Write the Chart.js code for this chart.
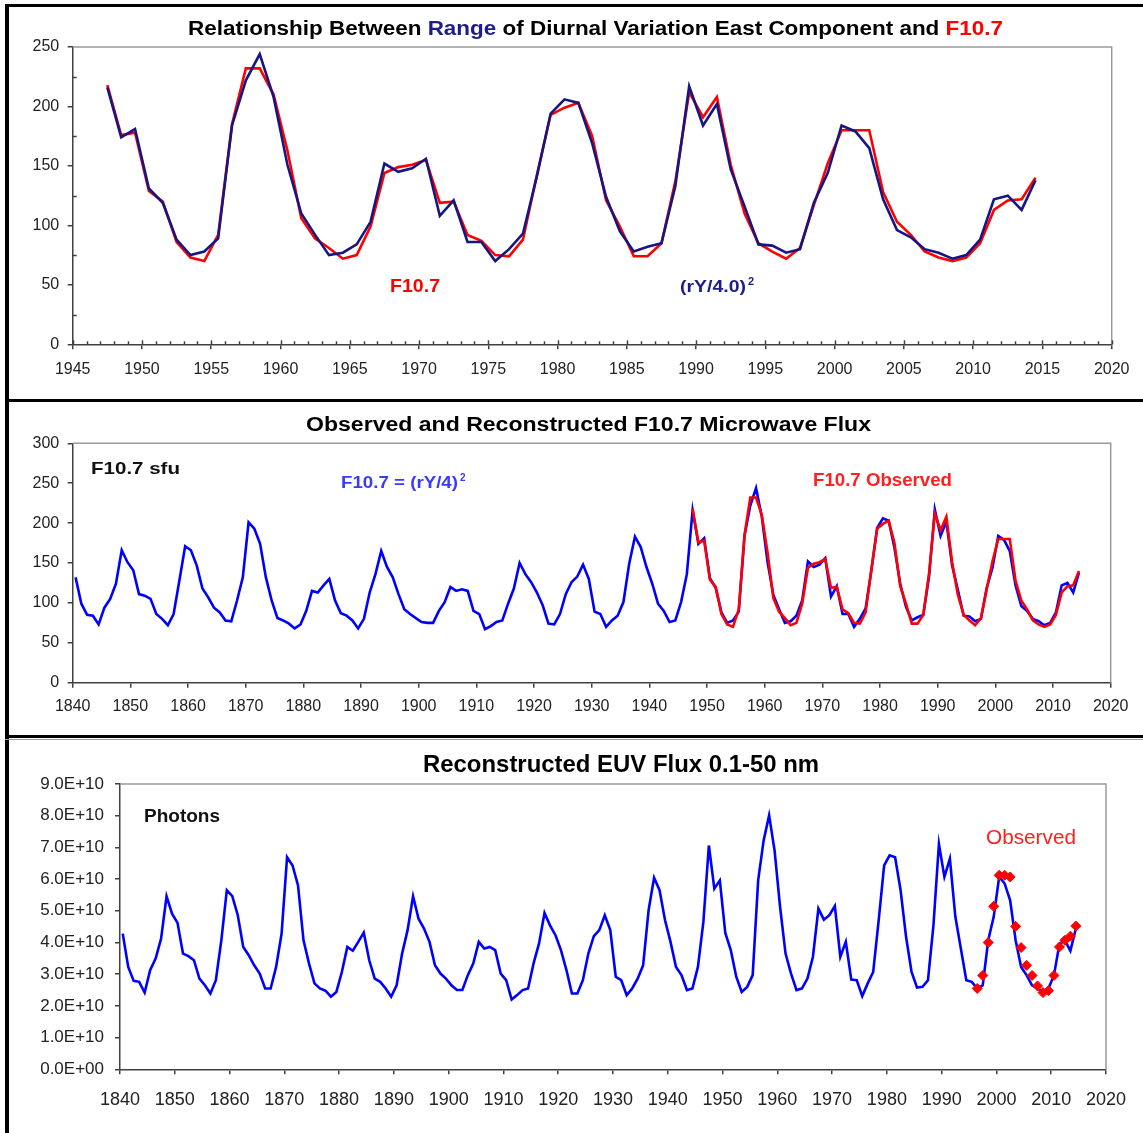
<!DOCTYPE html>
<html><head><meta charset="utf-8">
<script src="https://cdn.jsdelivr.net/npm/chart.js@4.4.1/dist/chart.umd.min.js"></script>
<style>
html,body{margin:0;padding:0;background:#fff;width:1143px;height:1133px;overflow:hidden;position:relative;}
canvas{position:absolute;left:0;}
.b{position:absolute;background:#000;}
</style></head><body>
<canvas id="c1" width="1143" height="400" style="top:0px;width:1143px;height:400px"></canvas>
<canvas id="c2" width="1143" height="337" style="top:400px;width:1143px;height:337px"></canvas>
<canvas id="c3" width="1143" height="396" style="top:737px;width:1143px;height:396px"></canvas>
<div class="b" style="left:5px;top:4px;width:1138px;height:3px"></div>
<div class="b" style="left:5px;top:4px;width:4px;height:1129px"></div>
<div class="b" style="left:5px;top:399px;width:1138px;height:3px"></div>
<div class="b" style="left:5px;top:735px;width:1138px;height:3px"></div>
<div class="b" style="left:5px;top:739px;width:1138px;height:1px;background:#999"></div>
<script>
// ---------------- DATA ----------------
// Panel 1: annual means 1947-2014
const topStartYear = 1947;
const rangeRY = [216,174,181,131,119,88,75,78,89,184,222,244,208,151,110,92,75,77,84,103,
  152,145,148,156,108,121,86,86,70,80,93,141,194,206,203,169,124,95,78,82,
  85,133,217,184,202,147,116,84,83,77,80,119,144,184,179,165,122,96,90,80,
  77,72,75,88,122,125,113,138];
const f107Obs = [218,176,178,129,120,86,73,70,92,185,232,232,210,163,106,89,81,72,75,99,
  144,149,151,155,119,120,92,87,75,74,88,142,193,199,203,175,121,99,74,74,
  85,137,212,191,208,151,110,85,78,72,81,117,152,180,180,180,128,103,92,78,
  73,70,73,85,113,121,122,140];
// Panel 2: reconstructed F10.7 1840-1946 (continues with rangeRY from 1947)
const reconStartYear = 1840;
const f107Recon1840 = [132,99,85,84,73,94,105,124,166,151,
  141,111,109,105,86,80,72,86,128,171,
  166,147,118,107,94,88,78,77,103,132,
  201,193,174,132,103,81,78,74,68,73,
  90,115,113,122,130,103,87,84,78,68,
  80,113,136,165,145,132,111,92,86,81,
  76,75,75,90,101,120,115,117,115,90,
  86,67,71,76,78,99,118,150,136,126,
  113,97,74,73,86,111,126,133,148,130,
  89,86,70,78,84,101,149,183,170,145,
  124,99,90,76,78,101,136];
// Panel 3: reconstructed EUV photon flux 1840-2014
const euvRecon = [4.28e10,3.23e10,2.79e10,2.76e10,2.42e10,3.13e10,3.49e10,4.12e10,5.46e10,4.91e10,
  4.62e10,3.65e10,3.57e10,3.44e10,2.86e10,2.65e10,2.39e10,2.81e10,4.07e10,5.65e10,
  5.46e10,4.86e10,3.86e10,3.60e10,3.28e10,3.02e10,2.55e10,2.55e10,3.23e10,4.28e10,
  6.69e10,6.43e10,5.80e10,4.07e10,3.34e10,2.71e10,2.55e10,2.48e10,2.29e10,2.44e10,
  3.07e10,3.86e10,3.74e10,4.02e10,4.31e10,3.44e10,2.86e10,2.76e10,2.55e10,2.29e10,
  2.65e10,3.65e10,4.39e10,5.46e10,4.75e10,4.44e10,4.02e10,3.28e10,3.02e10,2.86e10,
  2.65e10,2.50e10,2.50e10,2.97e10,3.34e10,4.02e10,3.81e10,3.86e10,3.76e10,3.02e10,
  2.81e10,2.20e10,2.34e10,2.50e10,2.55e10,3.34e10,3.97e10,4.93e10,4.54e10,4.23e10,
  3.76e10,3.13e10,2.39e10,2.39e10,2.81e10,3.65e10,4.20e10,4.39e10,4.86e10,4.39e10,
  2.92e10,2.81e10,2.34e10,2.55e10,2.86e10,3.28e10,5.02e10,6.04e10,5.65e10,4.70e10,
  4.02e10,3.23e10,2.97e10,2.50e10,2.55e10,3.23e10,4.65e10,7.06e10,5.70e10,5.96e10,
  4.30e10,3.76e10,2.92e10,2.44e10,2.60e10,2.97e10,5.96e10,7.22e10,8.01e10,6.90e10,
  5.12e10,3.65e10,3.02e10,2.50e10,2.55e10,2.86e10,3.55e10,5.07e10,4.72e10,4.86e10,
  5.15e10,3.55e10,4.02e10,2.83e10,2.81e10,2.31e10,2.71e10,3.07e10,4.70e10,6.43e10,
  6.75e10,6.69e10,5.65e10,4.18e10,3.07e10,2.58e10,2.60e10,2.81e10,4.54e10,7.11e10,
  6.07e10,6.64e10,4.81e10,3.81e10,2.81e10,2.76e10,2.55e10,2.65e10,4.07e10,4.81e10,
  6.07e10,5.86e10,5.33e10,4.07e10,3.23e10,2.97e10,2.65e10,2.55e10,2.44e10,2.55e10,
  2.97e10,3.95e10,4.07e10,3.74e10,4.44e10];
const euvObsStartYear = 1996;
const euvObs = [2.55e10,2.96e10,4.00e10,5.14e10,6.12e10,6.12e10,6.07e10,4.51e10,3.84e10,3.28e10,
  2.96e10,2.63e10,2.42e10,2.48e10,2.96e10,3.86e10,4.07e10,4.20e10,4.52e10];

// Tick values
const xTicksTop = [1945,1950,1955,1960,1965,1970,1975,1980,1985,1990,1995,2000,2005,2010,2015,2020];
const yTicksTop = [0,50,100,150,200,250];
const xTicksLong = [1840,1850,1860,1870,1880,1890,1900,1910,1920,1930,1940,1950,1960,1970,1980,1990,2000,2010,2020];
const yTicksMid = [0,50,100,150,200,250,300];
const yTicksEuv = [0,1e10,2e10,3e10,4e10,5e10,6e10,7e10,8e10,9e10];

// annual means plotted at mid-year
function series(startYear, vals) { return vals.map((v, i) => ({ x: startYear + i + 0.5, y: v })); }
const midRecon = f107Recon1840.concat(rangeRY);

// ---------------- DECOR PLUGIN ----------------
const FONT = '"Liberation Sans", Arial, sans-serif';
function drawText(ctx, t) {
  ctx.save();
  ctx.font = t.font;
  ctx.textBaseline = 'alphabetic';
  ctx.textAlign = 'left';
  const segs = t.segs;
  const widths = segs.map(s => ctx.measureText(s.text).width);
  const total = widths.reduce((a, b) => a + b, 0);
  const sx = t.w ? t.w / total : 1;
  ctx.translate(t.x, t.y);
  ctx.scale(sx, 1);
  let cx = 0;
  segs.forEach((s, i) => { ctx.fillStyle = s.color; ctx.fillText(s.text, cx, 0); cx += widths[i]; });
  ctx.restore();
}
const decor = {
  id: 'decor',
  afterDraw(chart, args, o) {
    const ctx = chart.ctx, a = chart.chartArea;
    const xs = chart.scales.x, ys = chart.scales.y;
    ctx.save();
    ctx.strokeStyle = '#9a9a9a'; ctx.lineWidth = 1.5;
    ctx.beginPath(); ctx.moveTo(a.left, a.top); ctx.lineTo(a.right, a.top); ctx.lineTo(a.right, a.bottom); ctx.stroke();
    ctx.strokeStyle = '#404040'; ctx.lineWidth = 1.5;
    if (o.minorX) {
      for (let v = xs.min; v <= xs.max + 1e-9; v += o.minorX) {
        const px = Math.round(xs.getPixelForValue(v)) + 0.5;
        const major = Math.abs(v % 5) < 1e-9;
        ctx.beginPath(); ctx.moveTo(px, a.bottom); ctx.lineTo(px, a.bottom - (major ? 4 : 3)); ctx.stroke();
      }
    }
    if (o.minorY) {
      for (let v = ys.min + o.minorY; v < ys.max; v += 2 * o.minorY) {
        const py = Math.round(ys.getPixelForValue(v)) + 0.5;
        ctx.beginPath(); ctx.moveTo(a.left, py); ctx.lineTo(a.left + 4, py); ctx.stroke();
      }
    }
    ctx.restore();
    (o.texts || []).forEach(t => drawText(ctx, t));
  }
};

function eFormat(v) {
  if (v === 0) return '0.0E+00';
  const e = Math.floor(Math.log10(Math.abs(v)) + 1e-9);
  const m = v / Math.pow(10, e);
  return m.toFixed(1) + 'E+' + String(e).padStart(2, '0');
}

function makeChart(id, c) {
  return new Chart(document.getElementById(id), {
    type: 'line',
    data: { datasets: c.datasets },
    options: {
      responsive: false, animation: false, devicePixelRatio: 1,
      layout: { padding: { top: c.top, right: c.right, bottom: 0, left: 0 } },
      elements: { line: { tension: 0 }, point: { radius: 0 } },
      plugins: { legend: { display: false }, tooltip: { enabled: false }, title: { display: false }, decor: c.decor },
      scales: {
        x: {
          type: 'linear', min: c.xTicks[0], max: c.xTicks[c.xTicks.length - 1],
          afterFit: s => { s.height = c.xH; },
          afterBuildTicks: s => { s.ticks = c.xTicks.map(v => ({ value: v })); },
          border: { color: '#404040', width: 1.5 },
          grid: { drawOnChartArea: false, drawTicks: true, tickLength: 5, color: '#404040', lineWidth: 1.5 },
          ticks: { font: c.xFont, color: '#222', padding: c.xPad, maxRotation: 0, autoSkip: false, callback: v => String(v) }
        },
        y: {
          type: 'linear', min: c.yTicks[0], max: c.yTicks[c.yTicks.length - 1],
          afterFit: s => { s.width = c.yW; },
          afterBuildTicks: s => { s.ticks = c.yTicks.map(v => ({ value: v })); },
          border: { color: '#404040', width: 1.5 },
          grid: { drawOnChartArea: false, drawTicks: true, tickLength: 5, color: '#404040', lineWidth: 1.5 },
          ticks: { font: c.yFont, color: '#222', padding: c.yPad, autoSkip: false, callback: c.yFmt || (v => String(v)) }
        }
      }
    },
    plugins: [decor]
  });
}

const NAVY = '#161682', RED = '#ff0000', BLUE = '#0000ff';

// Panel 1
makeChart('c1', {
  top: 47, right: 31.3, xH: 55.7, yW: 72.7, xPad: 11, yPad: 8.5,
  xTicks: xTicksTop, yTicks: yTicksTop,
  xFont: { family: FONT, size: 16 }, yFont: { family: FONT, size: 16 },
  datasets: [
    { data: series(topStartYear, rangeRY), borderColor: NAVY, borderWidth: 2.6, order: 0 },
    { data: series(topStartYear, f107Obs), borderColor: RED, borderWidth: 2.6, order: 1 }
  ],
  decor: {
    minorX: 1, minorY: 25,
    texts: [
      { x: 188, y: 35, w: 815, font: 'bold 19.5px ' + FONT, segs: [
        { text: 'Relationship Between ', color: '#000' }, { text: 'Range', color: '#1c1c8a' },
        { text: ' of Diurnal Variation East Component and ', color: '#000' }, { text: 'F10.7', color: '#ff0000' } ] },
      { x: 390, y: 292, w: 50, font: 'bold 19px ' + FONT, segs: [{ text: 'F10.7', color: RED }] },
      { x: 680, y: 292, w: 66, font: 'bold 17px ' + FONT, segs: [{ text: '(rY/4.0)', color: '#1c1c8a' }] },
      { x: 748, y: 285, font: 'bold 11px ' + FONT, segs: [{ text: '2', color: '#1c1c8a' }] }
    ]
  }
});

// Panel 2
makeChart('c2', {
  top: 43.3, right: 32.3, xH: 54.3, yW: 72.7, xPad: 9.5, yPad: 8.5,
  xTicks: xTicksLong, yTicks: yTicksMid,
  xFont: { family: FONT, size: 16 }, yFont: { family: FONT, size: 16 },
  datasets: [
    { data: series(topStartYear, f107Obs), borderColor: RED, borderWidth: 2.6, order: 0 },
    { data: series(reconStartYear, midRecon), borderColor: BLUE, borderWidth: 2.6, order: 1 }
  ],
  decor: {
    texts: [
      { x: 306, y: 31, w: 565, font: 'bold 19.5px ' + FONT, segs: [{ text: 'Observed and Reconstructed F10.7 Microwave Flux', color: '#000' }] },
      { x: 91, y: 74, w: 89, font: 'bold 17px ' + FONT, segs: [{ text: 'F10.7 sfu', color: '#111' }] },
      { x: 341, y: 88, w: 117, font: 'bold 16px ' + FONT, segs: [{ text: 'F10.7 = (rY/4)', color: '#3a3aff' }] },
      { x: 460, y: 81, font: 'bold 10px ' + FONT, segs: [{ text: '2', color: '#3a3aff' }] },
      { x: 813, y: 86, w: 139, font: 'bold 18px ' + FONT, segs: [{ text: 'F10.7 Observed', color: '#ff2020' }] }
    ]
  }
});

// Panel 3
makeChart('c3', {
  top: 47, right: 37, xH: 63.7, yW: 120, xPad: 15, yPad: 11,
  xTicks: xTicksLong, yTicks: yTicksEuv,
  xFont: { family: FONT, size: 18 },
  yFont: { family: FONT, size: 17 }, yFmt: eFormat,
  datasets: [
    { data: series(euvObsStartYear, euvObs), showLine: false, pointStyle: 'rectRot', pointRadius: 5,
      pointBackgroundColor: RED, pointBorderColor: RED, borderColor: RED, order: 0 },
    { data: series(reconStartYear, euvRecon), borderColor: BLUE, borderWidth: 2.6, order: 1 }
  ],
  decor: {
    texts: [
      { x: 423, y: 35, w: 396, font: 'bold 24px ' + FONT, segs: [{ text: 'Reconstructed EUV Flux 0.1-50 nm', color: '#000' }] },
      { x: 144, y: 85, w: 76, font: 'bold 18.5px ' + FONT, segs: [{ text: 'Photons', color: '#111' }] },
      { x: 986, y: 107, w: 90, font: '19.5px ' + FONT, segs: [{ text: 'Observed', color: '#ff2020' }] }
    ]
  }
});
</script>
</body></html>
